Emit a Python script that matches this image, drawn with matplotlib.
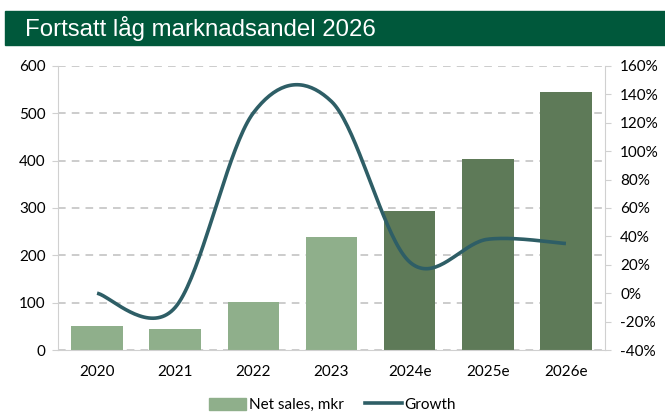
import numpy as np
import matplotlib.pyplot as plt
from matplotlib.patches import Patch, Rectangle
from matplotlib.lines import Line2D
from matplotlib.ticker import FuncFormatter

# data
years = ["2020", "2021", "2022", "2023", "2024e", "2025e", "2026e"]
net_sales = [50, 45, 102, 239, 294, 404, 545]
growth = [0, -10, 127, 135, 22, 38, 35]  # percent
is_estimate = [False, False, False, False, True, True, True]

light_green = "#8FAF8B"
dark_green = "#5E7A58"
line_color = "#2E5E66"
title_bg = "#00583B"
grey = "#BFBFBF"

plt.rcParams["font.family"] = ["Lato", "DejaVu Sans"]


def smooth_curve(x, y, steps=40):
    # Excel-like smoothed line (Catmull-Rom through the data points)
    x = np.asarray(x, float)
    y = np.asarray(y, float)
    px = np.concatenate([[x[0]], x, [x[-1]]])
    py = np.concatenate([[y[0]], y, [y[-1]]])
    xs, ys = [], []
    t = np.linspace(0, 1, steps)
    for i in range(1, len(px) - 2):
        p0, p1, p2, p3 = (np.array([px[j], py[j]]) for j in range(i - 1, i + 3))
        c1 = p1 + (p2 - p0) / 6
        c2 = p2 - (p3 - p1) / 6
        pts = ((1 - t) ** 3)[:, None] * p1 + (3 * (1 - t) ** 2 * t)[:, None] * c1 \
            + (3 * (1 - t) * t ** 2)[:, None] * c2 + (t ** 3)[:, None] * p2
        xs.extend(pts[:, 0])
        ys.extend(pts[:, 1])
    return np.array(xs), np.array(ys)


fig = plt.figure(figsize=(6.65, 4.16), dpi=100)

# title bar
fig.patches.append(Rectangle((5 / 665, 1 - 45 / 416), 660 / 665, 34 / 416,
                             transform=fig.transFigure, color=title_bg, zorder=0))
fig.text(25 / 665, 1 - 28.5 / 416, "Fortsatt låg marknadsandel 2026", color="white",
         fontsize=17.3, family="Liberation Sans", va="center", ha="left")

ax = fig.add_axes([58 / 665, 1 - 350 / 416, 547 / 665, 284 / 416])
x = np.arange(len(years))
colors = [dark_green if e else light_green for e in is_estimate]
ax.bar(x, net_sales, width=0.66, color=colors, zorder=2)

ax.set_xlim(-0.5, len(years) - 0.5)
ax.set_ylim(0, 600)
ax.set_yticks(range(0, 601, 100))
ax.set_xticks(x)
ax.set_xticklabels(years)
ax.grid(axis="y", linestyle=(0, (5, 4)), color=grey, linewidth=1.1, zorder=0)
for s in ["top", "right"]:
    ax.spines[s].set_visible(False)
ax.spines["left"].set_color("#D0D0D0")
ax.spines["bottom"].set_color("#D0D0D0")
ax.tick_params(axis="y", length=4, color="#D0D0D0", labelsize=11, pad=5)
ax.tick_params(axis="x", length=0, labelsize=11, pad=11)

ax2 = ax.twinx()
sx, sy = smooth_curve(x, growth)
ax2.plot(sx, sy, color=line_color, linewidth=2.6, solid_capstyle="butt", zorder=3)
ax2.set_ylim(-40, 160)
ax2.set_yticks(range(-40, 161, 20))
ax2.yaxis.set_major_formatter(FuncFormatter(lambda v, p: f"{v:.0f}%"))
for s in ["top", "left", "bottom"]:
    ax2.spines[s].set_visible(False)
ax2.spines["right"].set_color("#D0D0D0")
ax2.tick_params(axis="y", length=4, color="#D0D0D0", labelsize=11, pad=7)

handles = [Patch(color=light_green, label="Net sales, mkr"),
           Line2D([0], [0], color=line_color, linewidth=2.6, label="Growth")]
fig.legend(handles=handles, loc="center", bbox_to_anchor=(0.5, 1 - 405 / 416),
           ncol=2, frameon=False, fontsize=11, handlelength=2.4, handleheight=0.8,
           columnspacing=1.4, handletextpad=0.2)

fig.savefig("out.png", dpi=100)
